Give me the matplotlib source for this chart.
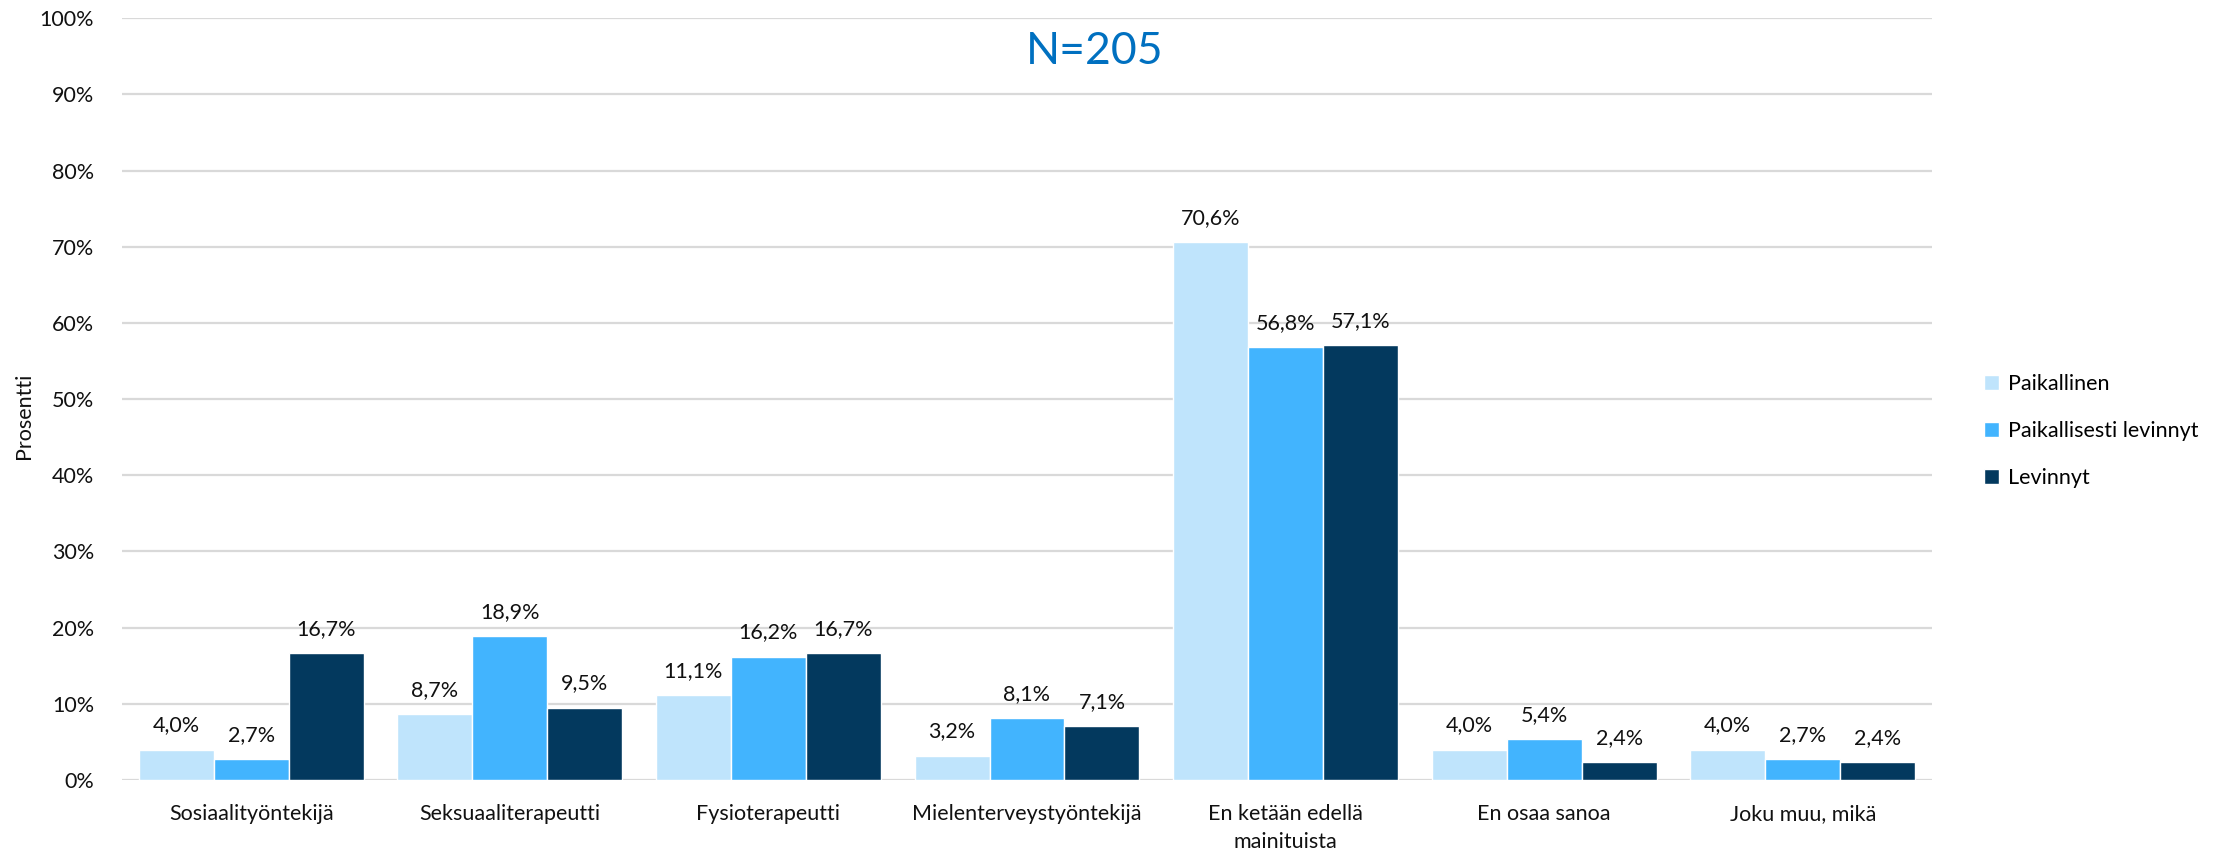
import matplotlib
matplotlib.use("Agg")
import matplotlib.pyplot as plt
import numpy as np

plt.rcParams['font.family'] = ['Lato', 'DejaVu Sans']

categories = ["Sosiaalityöntekijä", "Seksuaaliterapeutti", "Fysioterapeutti",
              "Mielenterveystyöntekijä", "En ketään edellä\nmainituista",
              "En osaa sanoa", "Joku muu, mikä"]
series_names = ["Paikallinen", "Paikallisesti levinnyt", "Levinnyt"]
paikallinen = [4.0, 8.7, 11.1, 3.2, 70.6, 4.0, 4.0]
paikallisesti_levinnyt = [2.7, 18.9, 16.2, 8.1, 56.8, 5.4, 2.7]
levinnyt = [16.7, 9.5, 16.7, 7.1, 57.1, 2.4, 2.4]
colors = ["#BFE4FC", "#42B4FE", "#03395E"]
title_text = "N=205"

W, H = 2213, 851
fig = plt.figure(figsize=(W / 100, H / 100), dpi=100)
ax = fig.add_axes([122 / W, 1 - 780 / H, (1932 - 122) / W, (780 - 18.3) / H])

x = np.arange(len(categories))
bw = 0.29
fs = 15.5
all_series = [paikallinen, paikallisesti_levinnyt, levinnyt]
for i, (vals, name, c) in enumerate(zip(all_series, series_names, colors)):
    pos = x + (i - 1) * bw
    ax.bar(pos, vals, width=bw, color=c, edgecolor="white",
           linewidth=1.0, label=name, zorder=3)
    for xp, v in zip(pos, vals):
        ax.annotate(f"{v:.1f}%".replace(".", ","), (xp, v),
                    xytext=(0, 13), textcoords="offset points",
                    ha="center", va="baseline", fontsize=fs, color="#111111")

ax.set_xlim(-0.5, len(categories) - 0.5)
ax.set_ylim(0, 100)
ax.set_yticks(np.arange(0, 101, 10))
ax.set_yticklabels([f"{t}%" for t in range(0, 101, 10)], fontsize=fs, color="#111111")
ax.set_xticks(x)
ax.set_xticklabels(categories, fontsize=fs, color="#111111", linespacing=1.5)
ax.tick_params(axis="both", length=0)
ax.tick_params(axis="x", pad=17)
ax.tick_params(axis="y", pad=20)
ax.yaxis.grid(True, color="#D9D9D9", linewidth=1.6, zorder=0)
ax.set_axisbelow(True)
for s in ax.spines.values():
    s.set_visible(False)

fig.text(24 / W, 1 - 416 / H, "Prosentti", rotation=90, ha="center",
         va="center", fontsize=fs, color="#111111")
fig.text(1095 / W, 1 - 52 / H, title_text, ha="center", va="center",
         fontsize=32, color="#0070C0")

fig.legend(loc="center left", bbox_to_anchor=(1965 / W, 1 - 431 / H),
           frameon=False, fontsize=fs, handlelength=0.7, handleheight=0.7,
           handletextpad=0.4, labelspacing=1.25)

fig.savefig("out.png", dpi=100)
